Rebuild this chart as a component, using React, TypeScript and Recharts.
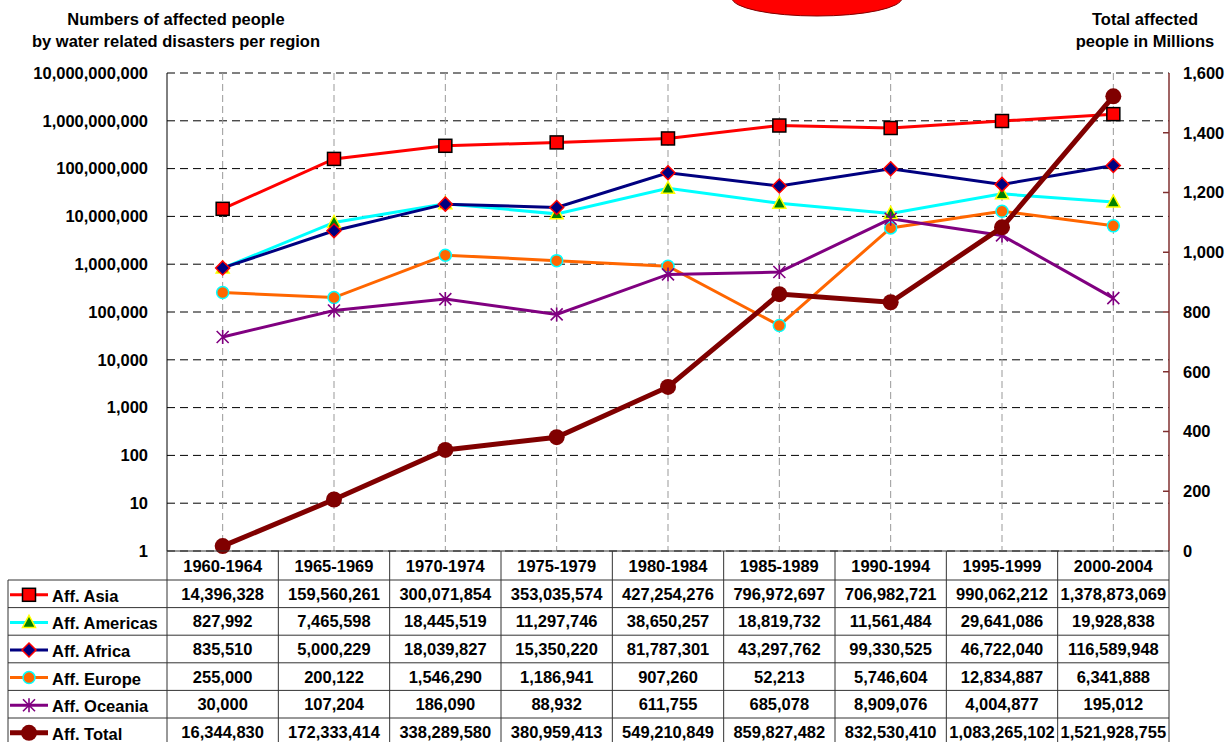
import React from 'react';
import { ComposedChart, Line, XAxis, YAxis, CartesianGrid, ReferenceLine } from 'recharts';

// affected people per region, 5-year periods
const PERIODS = ['1960-1964', '1965-1969', '1970-1974', '1975-1979', '1980-1984', '1985-1989', '1990-1994', '1995-1999', '2000-2004'];
const ASIA = [14396328, 159560261, 300071854, 353035574, 427254276, 796972697, 706982721, 990062212, 1378873069];
const AMERICAS = [827992, 7465598, 18445519, 11297746, 38650257, 18819732, 11561484, 29641086, 19928838];
const AFRICA = [835510, 5000229, 18039827, 15350220, 81787301, 43297762, 99330525, 46722040, 116589948];
const EUROPE = [255000, 200122, 1546290, 1186941, 907260, 52213, 5746604, 12834887, 6341888];
const OCEANIA = [30000, 107204, 186090, 88932, 611755, 685078, 8909076, 4004877, 195012];
const TOTAL = [16344830, 172333414, 338289580, 380959413, 549210849, 859827482, 832530410, 1083265102, 1521928755];

const LEFT_TICKS = [1, 10, 100, 1e3, 1e4, 1e5, 1e6, 1e7, 1e8, 1e9, 1e10];
const RIGHT_TICKS = [0, 200, 400, 600, 800, 1000, 1200, 1400, 1600];

const FONT = 'Arial, "Liberation Sans", sans-serif';
const FS = 16.5;

const W = 1229;
const H = 742;
const PL = 167; // plot left
const PR = 1169; // plot right
const PT = 73;
const PB = 551;
const COL_W = (PR - PL) / PERIODS.length;
const ROW_TOP = 580;
const ROW_H = 27.6;
const R_MARGIN = 14;
const AXIS_RED = '#803030';

type Kind = 'square' | 'triangle' | 'diamond' | 'circle' | 'star' | 'big';

const SERIES: { key: string; label: string; color: string; width: number; kind: Kind; values: number[] }[] = [
  { key: 'asia', label: 'Aff. Asia', color: '#ff0000', width: 3, kind: 'square', values: ASIA },
  { key: 'americas', label: 'Aff. Americas', color: '#00ffff', width: 3, kind: 'triangle', values: AMERICAS },
  { key: 'africa', label: 'Aff. Africa', color: '#000080', width: 3, kind: 'diamond', values: AFRICA },
  { key: 'europe', label: 'Aff. Europe', color: '#ff6600', width: 3, kind: 'circle', values: EUROPE },
  { key: 'oceania', label: 'Aff. Oceania', color: '#800080', width: 3, kind: 'star', values: OCEANIA },
  { key: 'total', label: 'Aff. Total', color: '#800000', width: 5, kind: 'big', values: TOTAL },
];

const data = PERIODS.map((period, i) => ({
  period,
  asia: ASIA[i],
  americas: AMERICAS[i],
  africa: AFRICA[i],
  europe: EUROPE[i],
  oceania: OCEANIA[i],
  total: TOTAL[i] / 1e6,
}));

const fmt = (v: number) => v.toLocaleString('en-US');

const Marker = ({ kind, x, y }: { kind: Kind; x: number; y: number }) => {
  switch (kind) {
    case 'square':
      return <rect x={x - 6.5} y={y - 6.5} width={13} height={13} fill="#ff0000" stroke="#000" strokeWidth={1.5} />;
    case 'triangle':
      return <polygon points={`${x},${y - 7} ${x + 6.5},${y + 5} ${x - 6.5},${y + 5}`} fill="#008000" stroke="#ffff00" strokeWidth={1.5} />;
    case 'diamond':
      return <polygon points={`${x},${y - 7} ${x + 7},${y} ${x},${y + 7} ${x - 7},${y}`} fill="#000080" stroke="#ff0000" strokeWidth={1.5} />;
    case 'circle':
      return <circle cx={x} cy={y} r={6} fill="#ff6600" stroke="#00ffff" strokeWidth={1.5} />;
    case 'star':
      return (
        <path
          d={`M${x},${y - 7}V${y + 7}M${x - 6},${y - 6}L${x + 6},${y + 6}M${x - 6},${y + 6}L${x + 6},${y - 6}`}
          stroke="#800080"
          strokeWidth={1.6}
          fill="none"
        />
      );
    default:
      return <circle cx={x} cy={y} r={8} fill="#800000" />;
  }
};

const makeDot = (kind: Kind) => (p: any) => (
  <g key={`${kind}-${p.index}`}>
    <Marker kind={kind} x={p.cx} y={p.cy} />
  </g>
);

const tickStyle = { fill: '#000', fontSize: FS, fontWeight: 700, fontFamily: FONT };

// right axis: label plus a short inward tick mark
const RightTick = (props: any) => {
  const { x, y, payload } = props;
  const ax = x - R_MARGIN;
  return (
    <g>
      {payload.value > 0 && payload.value < 1600 && (
        <line x1={ax - 6} x2={ax} y1={y} y2={y} stroke={AXIS_RED} strokeWidth={1.5} />
      )}
      <text x={x} y={y} dy="0.355em" textAnchor="start" {...tickStyle}>
        {fmt(payload.value)}
      </text>
    </g>
  );
};

const DataTable = () => {
  const lines: React.ReactNode[] = [];
  const bottom = ROW_TOP + ROW_H * SERIES.length;
  lines.push(<line key="hb" x1={PL} x2={PR} y1={PB} y2={PB} />);
  for (let r = 0; r <= SERIES.length; r++) {
    const y = ROW_TOP + r * ROW_H;
    lines.push(<line key={`h${r}`} x1={8} x2={PR} y1={y} y2={y} />);
  }
  lines.push(<line key="v0" x1={8} x2={8} y1={ROW_TOP} y2={bottom} />);
  for (let c = 0; c <= PERIODS.length; c++) {
    const x = PL + c * COL_W;
    lines.push(<line key={`v${c + 1}`} x1={x} x2={x} y1={PB} y2={bottom} />);
  }
  return (
    <svg width={W} height={H} style={{ position: 'absolute', left: 0, top: 0, pointerEvents: 'none' }}>
      <g stroke="#333" strokeWidth={1}>{lines}</g>
      <g fontFamily={FONT} fontWeight={700} fontSize={FS} fill="#000">
        {PERIODS.map((p, c) => (
          <text key={p} x={PL + (c + 0.5) * COL_W} y={(PB + ROW_TOP) / 2 + 6} textAnchor="middle">
            {p}
          </text>
        ))}
        {SERIES.map((s, r) => {
          const cy = ROW_TOP + (r + 0.5) * ROW_H;
          return (
            <g key={s.key}>
              <line x1={10} x2={48} y1={cy + 1} y2={cy + 1} stroke={s.color} strokeWidth={s.width} />
              <Marker kind={s.kind} x={29} y={cy + 1} />
              <text x={52} y={cy + 8}>{s.label}</text>
              {s.values.map((v, c) => (
                <text key={c} x={PL + (c + 0.5) * COL_W} y={cy + 6} textAnchor="middle">
                  {fmt(v)}
                </text>
              ))}
            </g>
          );
        })}
      </g>
    </svg>
  );
};

export default function App() {
  return (
    <div style={{ position: 'relative', width: W, height: H, overflow: 'hidden', background: '#fff', fontFamily: FONT }}>
      <style>{'body{margin:0}'}</style>
      <svg width={W} height={40} style={{ position: 'absolute', left: 0, top: 0 }}>
        <ellipse cx={817} cy={-2} rx={85} ry={18} fill="#ff0000" stroke="#800000" strokeWidth={1} />
      </svg>
      <div style={{ position: 'absolute', left: 0, top: 8, width: 352, textAlign: 'center', fontWeight: 700, fontSize: FS, lineHeight: '22px' }}>
        Numbers of affected people
        <br />
        by water related disasters per region
      </div>
      <div style={{ position: 'absolute', left: 1045, top: 8, width: 200, textAlign: 'center', fontWeight: 700, fontSize: FS, lineHeight: '22px' }}>
        Total affected
        <br />
        people in Millions
      </div>
      <div style={{ position: 'absolute', left: 0, top: 0 }}>
        <ComposedChart width={W} height={H} data={data} margin={{ top: PT, right: 0, bottom: H - PB, left: 0 }}>
          <CartesianGrid yAxisId="left" vertical={false} stroke="#000" strokeDasharray="8 5" />
          <XAxis
            dataKey="period"
            scale="band"
            orientation="top"
            height={0}
            tick={false}
            tickLine={false}
            axisLine={{ stroke: '#000' }}
            interval={0}
          />
          <YAxis
            yAxisId="left"
            scale="log"
            domain={[1, 1e10]}
            ticks={LEFT_TICKS}
            allowDataOverflow
            width={PL}
            tickSize={0}
            tickMargin={19}
            tickFormatter={fmt}
            tick={tickStyle}
            axisLine={{ stroke: '#000' }}
            interval={0}
          />
          <YAxis
            yAxisId="right"
            orientation="right"
            domain={[0, 1600]}
            ticks={RIGHT_TICKS}
            width={W - PR}
            tickSize={0}
            tickMargin={R_MARGIN}
            tick={<RightTick />}
            axisLine={{ stroke: AXIS_RED, strokeWidth: 1.5 }}
            interval={0}
          />
          {PERIODS.map((p) => (
            <ReferenceLine key={p} x={p} yAxisId="left" stroke="#999" strokeDasharray="7 4" />
          ))}
          {SERIES.map((s) => (
            <Line
              key={s.key}
              yAxisId={s.key === 'total' ? 'right' : 'left'}
              dataKey={s.key}
              type="linear"
              stroke={s.color}
              strokeWidth={s.width}
              dot={makeDot(s.kind)}
              activeDot={false}
              isAnimationActive={false}
            />
          ))}
        </ComposedChart>
      </div>
      <DataTable />
    </div>
  );
}
